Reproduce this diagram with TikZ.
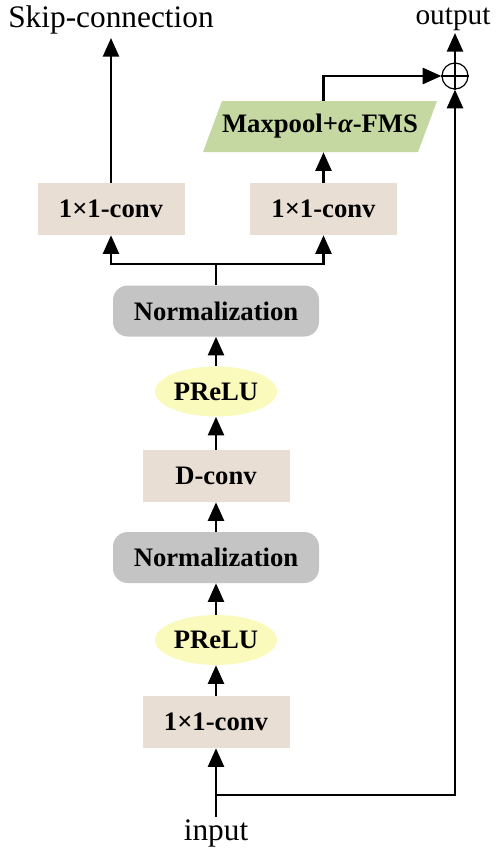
\documentclass[tikz,border=0pt]{standalone}
\usepackage{fontspec}
\setmainfont{Liberation Serif}
\usetikzlibrary{arrows.meta,shapes.geometric}
\definecolor{convbg}{RGB}{232,222,212}
\definecolor{normbg}{RGB}{196,196,196}
\definecolor{actbg}{RGB}{250,250,188}
\definecolor{poolbg}{RGB}{197,216,162}
\tikzset{
  boxtext/.style={font=\fontsize{20}{24}\selectfont\bfseries, inner sep=0pt},
  conv/.style={boxtext, rectangle, fill=convbg, minimum width=110.25pt, minimum height=39pt},
  norm/.style={boxtext, rectangle, rounded corners=11pt, fill=normbg, minimum width=154.5pt, minimum height=38.25pt},
  act/.style={boxtext, ellipse, fill=actbg, minimum width=91.5pt, minimum height=37.5pt},
  lbl/.style={font=\fontsize{23.5}{28}\selectfont},
  wire/.style={line width=1.9pt},
  arr/.style={wire, -{Triangle[length=14pt,width=12pt]}},
}
\begin{document}
\begin{tikzpicture}[x=0.75pt,y=-0.75pt]
\useasboundingbox (0,0) rectangle (497,850);

% main column
\node[conv] (c1) at (216,722) {1×1-conv};
\node[act]  (p1) at (216,640) {PReLU};
\node[norm] (n1) at (216,557.5) {Normalization};
\node[conv] (dc) at (216,476) {D-conv};
\node[act]  (p2) at (216,391.5) {PReLU};
\node[norm] (n2) at (216,311) {Normalization};

% two output heads
\node[conv] (lc) at (111,209) {1×1-conv};
\node[conv] (rc) at (323.5,209) {1×1-conv};
\fill[poolbg] (203,152) -- (222,101) -- (437,101) -- (418,152) -- cycle;
\node[boxtext, minimum height=38.25pt] (mp) at (320,126.5) {Maxpool+{\itshape α}-FMS};

% residual sum
\node[circle, draw, line width=0.9pt, minimum size=19.5pt, inner sep=0pt] (sum) at (455,76) {};
\draw[line width=0.9pt] (sum.north) -- (sum.south) (sum.west) -- (sum.east);

% labels
\node[lbl, anchor=south, inner sep=2.4pt] (skip) at (111,38) {Skip-connection};
\node[lbl, font=\fontsize{22}{26}\selectfont, anchor=south, inner sep=1.2pt] (out) at (453,33) {output};
\node[lbl, anchor=north, inner sep=2pt] (in) at (216,817) {input};

% connectors
\draw[arr] (in.north) -- (c1.south);
\draw[arr] (c1.north) -- (p1.south);
\draw[arr] (p1.north) -- (n1.south);
\draw[arr] (n1.north) -- (dc.south);
\draw[arr] (dc.north) -- (p2.south);
\draw[arr] (p2.north) -- (n2.south);

\coordinate (br) at (216,264);
\draw[wire] (n2.north) -- (br);
\draw[arr] (br) -| (lc.south);
\draw[arr] (br) -| (rc.south);
\draw[arr] (lc.north) -- (skip.south);
\draw[arr] (rc.north) -- (rc.north |- mp.south);
\draw[arr] (rc.north |- mp.north) |- (sum.west);
\draw[arr] (sum.north) -- (sum.north |- out.south);

\coordinate (jn) at (216,795);
\draw[arr] (jn) -| (sum.south);
\end{tikzpicture}
\end{document}
